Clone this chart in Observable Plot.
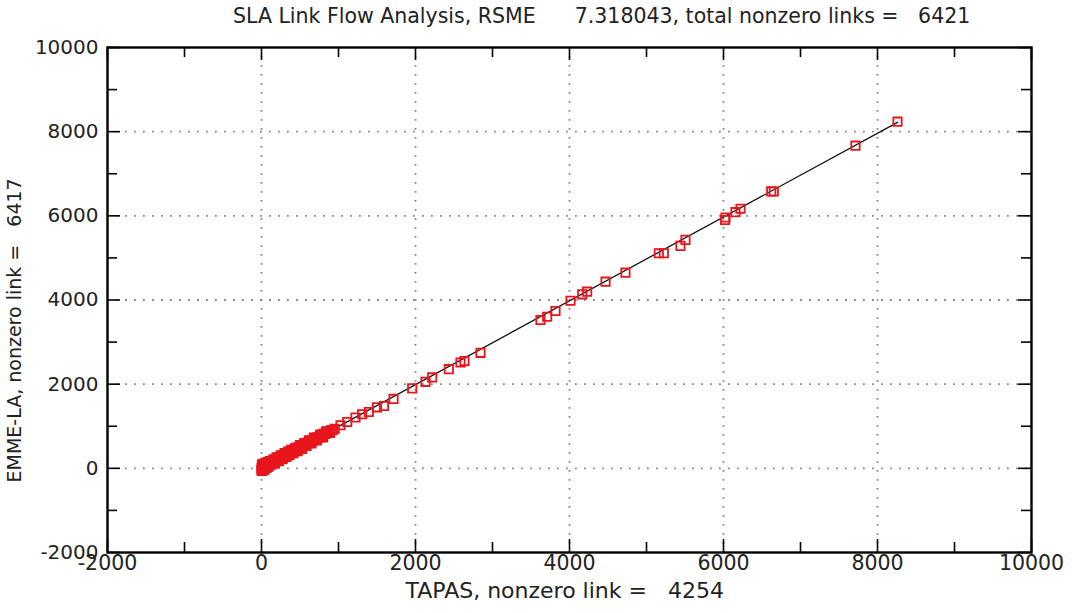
<!DOCTYPE html>
<html>
<head>
<meta charset="utf-8">
<script src="https://cdn.jsdelivr.net/npm/d3@7"></script>
<script src="https://cdn.jsdelivr.net/npm/@observablehq/plot@0.6"></script>
<style>
  html, body { margin: 0; padding: 0; background: #fff; }
  #title { height: 35px; position: relative; font-family: "DejaVu Sans", sans-serif; font-size: 20.5px; color: #222; white-space: pre; }
  #title span { position: absolute; left: 233px; top: 4px; }
  svg { white-space: pre; }
</style>
</head>
<body>
<div id="title"><span id="titleText"></span></div>
<div id="chart"></div>
<script>
const titleText = "SLA Link Flow Analysis, RSME      7.318043, total nonzero links =   6421";
const xLabel = "TAPAS, nonzero link =   4254";
const yLabel = "EMME-LA, nonzero link =   6417";
const majorTicks = [-2000, 0, 2000, 4000, 6000, 8000, 10000];
const minorTicks = [-1000, 1000, 3000, 5000, 7000, 9000];
const gridTicks = [0, 2000, 4000, 6000, 8000];

const tapas = [0,2,5,8,10,12,15,18,20,22,25,28,30,33,35,38,40,45,48,50,55,58,60,65,68,70,75,80,85,88,90,95,100,105,110,115,120,125,130,140,145,150,160,165,170,180,185,190,200,205,215,220,230,240,245,255,260,270,280,290,295,305,315,320,330,340,350,360,370,380,390,400,410,420,430,445,455,465,480,490,505,515,530,545,560,575,590,605,620,640,655,675,690,710,725,745,765,785,805,830,850,875,900,925,950,
3,7,14,26,36,52,63,78,92,108,135,155,175,195,225,250,275,300,325,345,365,385,415,440,470,500,525,555,585,615,650,680,720,760,800,840,890,
1026,1113,1221,1307,1394,1500,1590,1715,1957,2130,2216,2433,2584,2636,2844,3623,3710,3818,4013,4165,4229,4468,4727,5160,5225,5441,5506,6026,6020,6156,6221,6620,6653,7714,8260];
const emme = [-30,20,-10,45,0,-45,30,10,-20,60,15,-5,40,75,5,-25,50,20,85,35,10,70,45,100,30,60,95,55,120,75,105,65,130,90,140,100,150,110,165,135,180,140,190,150,205,175,220,180,230,195,245,210,260,235,275,250,290,265,305,280,320,300,340,310,355,335,375,350,395,370,410,395,430,410,455,440,475,455,500,480,520,505,545,530,575,560,605,595,635,625,665,660,700,695,740,730,775,770,820,815,865,860,905,910,940,
-60,95,-50,110,-30,125,10,150,40,170,90,210,120,260,170,310,220,360,270,400,310,440,360,490,410,550,460,600,530,665,590,730,665,805,735,880,840,
1024,1102,1207,1286,1340,1450,1480,1650,1900,2055,2160,2357,2516,2548,2745,3524,3602,3738,3983,4135,4198,4436,4650,5111,5111,5286,5429,5960,5900,6087,6167,6580,6579,7667,8238];
const fitX = [0, 8260];
const fitY = [0, 8220];

document.getElementById("titleText").textContent = titleText;

const points = tapas.map((t, i) => ({x: t, y: emme[i]}));
const fitLine = fitX.map((t, i) => ({x: t, y: fitY[i]}));

const W = 1072, H = 578;
const mT = 12, mB = 61, mL = 107, mR = 41;
const fw = W - mL - mR, fh = H - mT - mB;
const majLen = 13, minLen = 10;
const tickStyle = {stroke: "black", strokeWidth: 1.6};
const fmt = d => String(d);

const chart = Plot.plot({
  width: W, height: H,
  marginTop: mT, marginBottom: mB, marginLeft: mL, marginRight: mR,
  style: {background: "#fff", overflow: "visible"},
  x: {domain: [-2000, 10000]},
  y: {domain: [-2000, 10000]},
  marks: [
    Plot.gridX(gridTicks, {stroke: "#888", strokeOpacity: 1, strokeWidth: 1.8, strokeDasharray: "1.8,7.2"}),
    Plot.gridY(gridTicks, {stroke: "#888", strokeOpacity: 1, strokeWidth: 1.8, strokeDasharray: "1.8,7.2"}),
    Plot.tickX(majorTicks, {x: d => d, insetTop: fh - majLen, ...tickStyle}),
    Plot.tickX(minorTicks, {x: d => d, insetTop: fh - minLen, ...tickStyle}),
    Plot.tickX(majorTicks, {x: d => d, insetBottom: fh - majLen, ...tickStyle}),
    Plot.tickX(minorTicks, {x: d => d, insetBottom: fh - minLen, ...tickStyle}),
    Plot.tickY(majorTicks, {y: d => d, insetRight: fw - majLen, ...tickStyle}),
    Plot.tickY(minorTicks, {y: d => d, insetRight: fw - minLen, ...tickStyle}),
    Plot.tickY(majorTicks, {y: d => d, insetLeft: fw - majLen, ...tickStyle}),
    Plot.tickY(minorTicks, {y: d => d, insetLeft: fw - minLen, ...tickStyle}),
    Plot.line(fitLine, {x: "x", y: "y", stroke: "#111", strokeWidth: 1.3}),
    Plot.dot(points, {x: "x", y: "y", symbol: "square", r: 4.7, stroke: "#e8161c", strokeWidth: 1.8, fill: "none"}),
    Plot.frame({stroke: "black", strokeWidth: 2.4}),
    Plot.axisX(majorTicks, {tickSize: 0, tickPadding: 3, tickFormat: fmt, fontSize: 20.5, label: null, fontFamily: "DejaVu Sans, sans-serif", fill: "#222"}),
    Plot.axisY(majorTicks, {tickSize: 0, tickPadding: 9, tickFormat: fmt, fontSize: 20, label: null, fontFamily: "DejaVu Sans, sans-serif", fill: "#222"}),
    Plot.text([xLabel], {text: d => d, frameAnchor: "bottom-left", dx: 298, dy: 45, textAnchor: "start", fontSize: 22, fontFamily: "DejaVu Sans, sans-serif", fill: "#222"}),
    Plot.text([yLabel], {text: d => d, frameAnchor: "bottom-left", dx: -87, dy: -70, rotate: -90, textAnchor: "start", fontSize: 19, fontFamily: "DejaVu Sans, sans-serif", fill: "#222"})
  ]
});
document.getElementById("chart").appendChild(chart);
</script>
</body>
</html>
